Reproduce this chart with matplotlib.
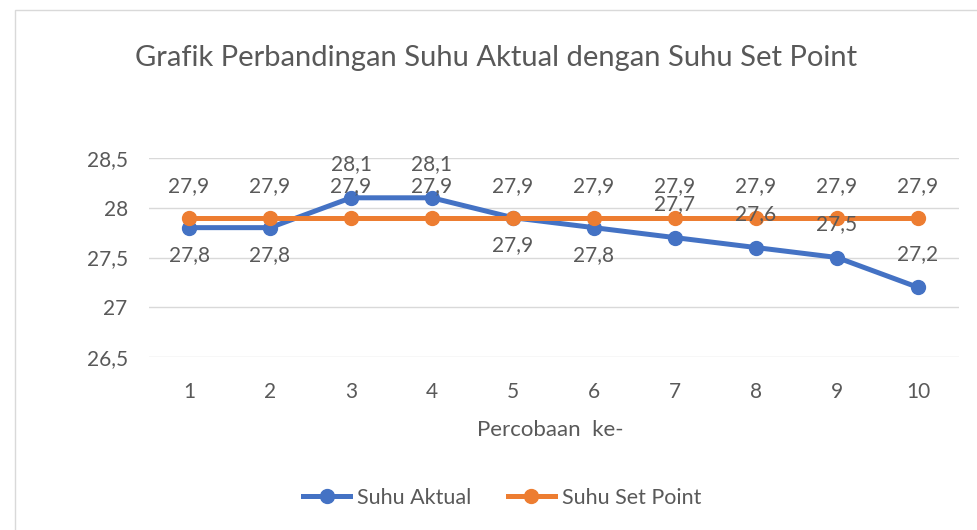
import matplotlib.pyplot as plt
from matplotlib.patches import Rectangle

percobaan = [1, 2, 3, 4, 5, 6, 7, 8, 9, 10]
suhu_aktual = [27.8, 27.8, 28.1, 28.1, 27.9, 27.8, 27.7, 27.6, 27.5, 27.2]
suhu_set_point = [27.9, 27.9, 27.9, 27.9, 27.9, 27.9, 27.9, 27.9, 27.9, 27.9]
y_ticks = [26.5, 27, 27.5, 28, 28.5]

plt.rcParams['font.family'] = ['Lato', 'DejaVu Sans']
teks = '#595959'
biru = '#4472C4'
oranye = '#ED7D31'


def koma(v):
    # format angka desimal pakai koma
    s = ('%.1f' % v).rstrip('0').rstrip('.')
    return s.replace('.', ',')


fig = plt.figure(figsize=(9.77, 5.30), dpi=100)
# bingkai chart area
fig.patches.append(Rectangle((15 / 977, -0.05), 1.0, 1 - 10 / 530 + 0.05,
                             transform=fig.transFigure, fill=False,
                             edgecolor='#D9D9D9', linewidth=1))

ax = fig.add_axes([148.5 / 977, 1 - 357 / 530, 810 / 977, 199 / 530])
ax.plot(percobaan, suhu_aktual, color=biru, lw=3.6, marker='o', ms=10,
        label='Suhu Aktual', zorder=3)
ax.plot(percobaan, suhu_set_point, color=oranye, lw=3.6, marker='o', ms=10,
        label='Suhu Set Point', zorder=4)

for x, y, sp in zip(percobaan, suhu_aktual, suhu_set_point):
    # label biru ditaruh di bawah titik kalau bakal tabrakan dengan label oranye
    dy = -20 if 0 <= sp - y <= 0.1 else 24
    ax.annotate(koma(y), (x, y), xytext=(0, dy), textcoords='offset points',
                ha='center', va='center', fontsize=15, color=teks, zorder=5)
for x, y in zip(percobaan, suhu_set_point):
    ax.annotate(koma(y), (x, y), xytext=(0, 23), textcoords='offset points',
                ha='center', va='center', fontsize=15, color=teks, zorder=5)

ax.set_xlim(0.5, 10.5)
ax.set_ylim(26.5, 28.5)
ax.set_xticks(percobaan)
ax.set_xticklabels([str(p) for p in percobaan])
ax.set_yticks(y_ticks)
ax.set_yticklabels([koma(v) for v in y_ticks])
ax.tick_params(axis='both', length=0, labelsize=15, labelcolor=teks)
ax.tick_params(axis='x', pad=18)
ax.tick_params(axis='y', pad=15)
ax.grid(axis='y', color='#D9D9D9', lw=1)
ax.set_axisbelow(True)
for s in ax.spines.values():
    s.set_visible(False)

fig.text(496 / 977, 1 - 58 / 530, 'Grafik Perbandingan Suhu Aktual dengan Suhu Set Point',
         ha='center', va='center', fontsize=21, color=teks)
fig.text(550 / 977, 1 - 430 / 530, 'Percobaan  ke-', ha='center', va='center',
         fontsize=16, color=teks)

fig.legend(loc='center', bbox_to_anchor=(502 / 977, 1 - 498 / 530), ncol=2,
           frameon=False, fontsize=15.5, labelcolor=teks, handlelength=2.2,
           columnspacing=1.7, handletextpad=0.3)

fig.savefig('out.png', dpi=100)
